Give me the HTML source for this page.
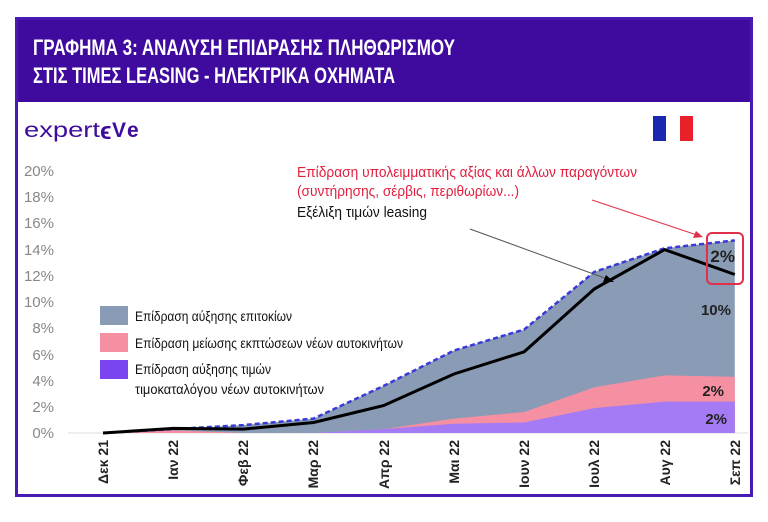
<!DOCTYPE html>
<html><head><meta charset="utf-8"><style>
html,body{margin:0;padding:0;background:#fff;width:768px;height:522px;overflow:hidden}
svg{display:block}
</style></head><body>
<svg width="768" height="522" viewBox="0 0 768 522" xmlns="http://www.w3.org/2000/svg" font-family="Liberation Sans, sans-serif">
<rect x="16" y="18" width="736" height="84" fill="#3f0a9e"/>
<rect x="16.5" y="18.5" width="735" height="477" fill="none" stroke="#4a1ab0" stroke-width="3"/>
<text x="33" y="55" fill="#fff" font-weight="bold" font-size="22" textLength="422" lengthAdjust="spacingAndGlyphs">ΓΡΑΦΗΜΑ 3: ΑΝΑΛΥΣΗ ΕΠΙΔΡΑΣΗΣ ΠΛΗΘΩΡΙΣΜΟΥ</text>
<text x="33" y="83" fill="#fff" font-weight="bold" font-size="22" textLength="362" lengthAdjust="spacingAndGlyphs">ΣΤΙΣ ΤΙΜΕΣ LEASING - ΗΛΕΚΤΡΙΚΑ ΟΧΗΜΑΤΑ</text>
<text x="24" y="137" fill="#3f0a9e" font-size="21" textLength="76" lengthAdjust="spacingAndGlyphs">expert</text>
<text x="100" y="139" fill="#3f0a9e" font-size="24" font-weight="bold">ϵ</text>
<text x="112" y="137" fill="#3f0a9e" font-size="21" font-weight="bold">V</text>
<text x="127" y="137" fill="#3f0a9e" font-size="21" font-weight="bold">e</text>
<rect x="653" y="116" width="13" height="25" fill="#1a28b0"/>
<rect x="666" y="116" width="14" height="25" fill="#fff"/>
<rect x="680" y="116" width="13" height="25" fill="#e8202a"/>
<g fill="#888" font-size="15" text-anchor="end">
<text x="54" y="438">0%</text><text x="54" y="412">2%</text><text x="54" y="386">4%</text><text x="54" y="360">6%</text><text x="54" y="333">8%</text><text x="54" y="307">10%</text><text x="54" y="281">12%</text><text x="54" y="255">14%</text><text x="54" y="228">16%</text><text x="54" y="202">18%</text><text x="54" y="176">20%</text>
</g>
<line x1="68" y1="433" x2="748" y2="433" stroke="#ddd" stroke-width="1"/>
<polygon fill="#8a9bb5" points="103,433 173.2,429.1 243.4,425.1 313.6,418.6 383.8,385.8 454,350.5 524.2,329.5 594.4,271.9 664.6,248.3 734.8,240.4 734.8,433"/>
<polygon fill="#f58fa2" points="103,433 173.2,430.4 243.4,433 313.6,433 383.8,429.1 454,418.6 524.2,412 594.4,387.2 664.6,375.4 734.8,376.7 734.8,433"/>
<polygon fill="#a47af5" points="103,433 173.2,433 243.4,433 313.6,433 383.8,429.1 454,423.8 524.2,422.5 594.4,408.1 664.6,401.6 734.8,401.6 734.8,433"/>
<polyline fill="none" stroke="#3a3ad8" stroke-width="2.5" stroke-dasharray="5,3" points="103,433 173.2,429.1 243.4,425.1 313.6,418.6 383.8,385.8 454,350.5 524.2,329.5 594.4,271.9 664.6,248.3 734.8,240.4"/>
<polyline fill="none" stroke="#000" stroke-width="3" points="103,433 173.2,428.4 243.4,429.1 313.6,422.5 383.8,405.5 454,374 524.2,351.8 594.4,288.9 664.6,249.6 734.8,274.5"/>
<g font-weight="bold" fill="#222" text-anchor="end">
<text x="735" y="262" font-size="17">2%</text>
<text x="731" y="315" font-size="15">10%</text>
<text x="724" y="396" font-size="15">2%</text>
<text x="727" y="424" font-size="15">2%</text>
</g>
<rect x="707" y="233" width="36" height="51" rx="5" fill="none" stroke="#e0304a" stroke-width="2"/>
<line x1="592" y1="200" x2="700" y2="236" stroke="#e0304a" stroke-width="1"/>
<polygon points="703,237 693,238 696,231" fill="#e0304a"/>
<line x1="470" y1="229" x2="610" y2="280" stroke="#555" stroke-width="1"/>
<polygon points="614,282 603,282 606,275" fill="#000"/>
<g font-size="15" text-anchor="start">
<text x="297" y="177" fill="#e0203f" textLength="340" lengthAdjust="spacingAndGlyphs">Επίδραση υπολειμματικής αξίας και άλλων παραγόντων</text>
<text x="297" y="196" fill="#e0203f" textLength="222" lengthAdjust="spacingAndGlyphs">(συντήρησης, σέρβις, περιθωρίων...)</text>
<text x="297" y="217" fill="#111" textLength="130" lengthAdjust="spacingAndGlyphs">Εξέλιξη τιμών leasing</text>
</g>
<rect x="100" y="306" width="28" height="19" fill="#8a9bb5"/>
<rect x="100" y="333" width="28" height="19" fill="#f58fa2"/>
<rect x="100" y="360" width="28" height="19" fill="#7a44f0"/>
<g font-size="14" fill="#111">
<text x="135" y="321" textLength="157" lengthAdjust="spacingAndGlyphs">Επίδραση αύξησης επιτοκίων</text>
<text x="135" y="348" textLength="268" lengthAdjust="spacingAndGlyphs">Επίδραση μείωσης εκπτώσεων νέων αυτοκινήτων</text>
<text x="135" y="374" textLength="136" lengthAdjust="spacingAndGlyphs">Επίδραση αύξησης τιμών</text>
<text x="135" y="394" textLength="189" lengthAdjust="spacingAndGlyphs">τιμοκαταλόγου νέων αυτοκινήτων</text>
</g>
<g font-size="14" font-weight="bold" fill="#222" text-anchor="end">
<text transform="translate(108,440) rotate(-90)">Δεκ 21</text>
<text transform="translate(178,440) rotate(-90)">Ιαν 22</text>
<text transform="translate(248,440) rotate(-90)">Φεβ 22</text>
<text transform="translate(318,440) rotate(-90)">Μαρ 22</text>
<text transform="translate(389,440) rotate(-90)">Απρ 22</text>
<text transform="translate(459,440) rotate(-90)">Μαι 22</text>
<text transform="translate(529,440) rotate(-90)">Ιουν 22</text>
<text transform="translate(599,440) rotate(-90)">Ιουλ 22</text>
<text transform="translate(670,440) rotate(-90)">Αυγ 22</text>
<text transform="translate(740,440) rotate(-90)">Σεπ 22</text>
</g>
</svg>
</body></html>
